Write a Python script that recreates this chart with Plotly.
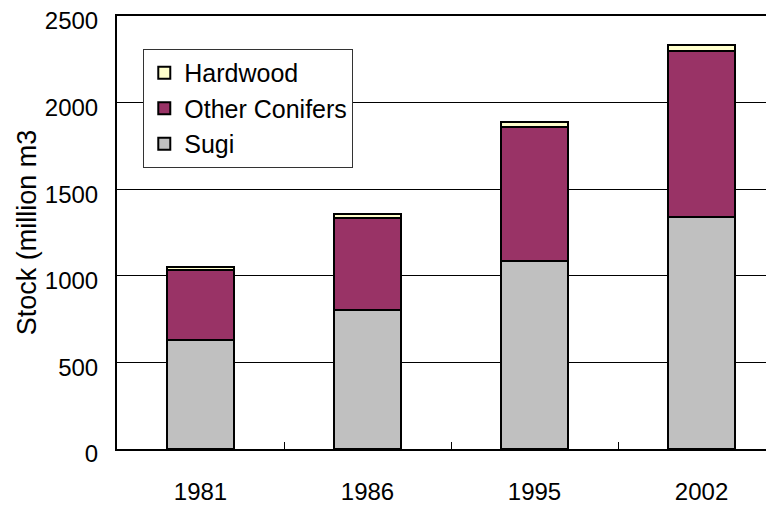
import plotly.graph_objects as go

years = ["1981", "1986", "1995", "2002"]
sugi = [628, 803, 1087, 1339]
other_conifers = [408, 530, 772, 959]
hardwood = [14, 24, 29, 35]

font_family = "Liberation Sans, Arial, sans-serif"

fig = go.Figure()
fig.add_trace(go.Bar(x=years, y=sugi, name="Sugi",
                     marker=dict(color="#C0C0C0", line=dict(color="black", width=2))))
fig.add_trace(go.Bar(x=years, y=other_conifers, name="Other Conifers",
                     marker=dict(color="#993366", line=dict(color="black", width=2))))
fig.add_trace(go.Bar(x=years, y=hardwood, name="Hardwood",
                     marker=dict(color="#FFFFCC", line=dict(color="black", width=2))))

# page body keeps its 8px default margin, so the margins below allow for it
fig.update_layout(
    width=774,
    height=506,
    barmode="stack",
    bargap=0.6,
    margin=dict(l=109, r=8, t=8, b=65, autoexpand=False),
    paper_bgcolor="white",
    plot_bgcolor="white",
    font=dict(family=font_family, size=24, color="black"),
    showlegend=True,
    legend=dict(
        x=0.04, y=0.924, xanchor="left", yanchor="top",
        traceorder="reversed",
        bgcolor="white",
        bordercolor="#333333",
        borderwidth=1,
        font=dict(size=25),
        itemwidth=30,
        tracegroupgap=0,
    ),
    xaxis=dict(
        type="category",
        range=[-0.5, 3.434],
        automargin=False,
        showline=True, linecolor="black", linewidth=2, mirror=True,
        showgrid=False,
        ticks="inside", tickson="boundaries", ticklen=7, tickcolor="black", tickwidth=1,
        ticklabelstandoff=20,
    ),
    yaxis=dict(
        range=[0, 2500],
        tickvals=[0, 500, 1000, 1500, 2000, 2500],
        automargin=False,
        ticklabeloverflow="allow",
        ticklabelshift=5,
        showline=True, linecolor="black", linewidth=2,
        showgrid=True, gridcolor="black", gridwidth=1,
        zeroline=False,
        ticks="",
        ticklabelstandoff=12,
        title=dict(text="Stock (million m3", font=dict(size=27), standoff=0),
    ),
)

fig.write_html("out.html")
